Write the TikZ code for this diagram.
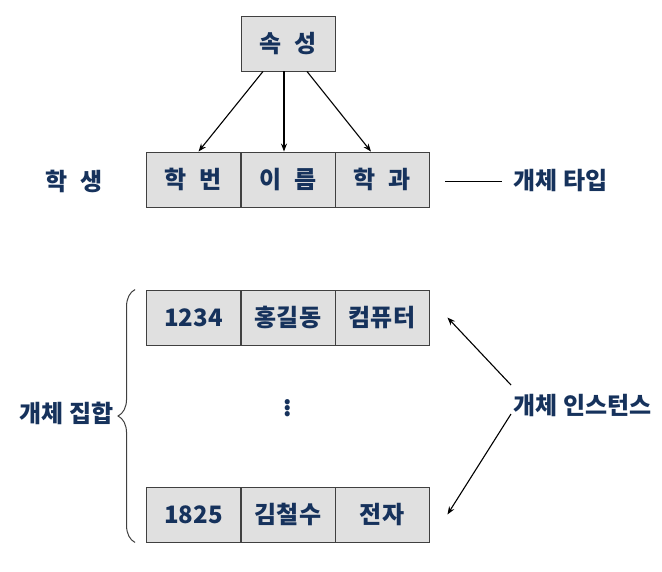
\documentclass[tikz,border=0pt]{standalone}
\usepackage{fontspec}
\setmainfont{Noto Sans CJK KR}
\usepackage{xcolor}
\definecolor{ink}{RGB}{22,50,92}
\definecolor{cellfill}{RGB}{224,224,224}
\usepackage{tikz}
\usetikzlibrary{positioning,arrows.meta,decorations.pathreplacing}
\newcommand{\widegap}{\spaceskip=13pt\relax}

\begin{document}
\begin{tikzpicture}[x=1pt, y=-1pt, >={Stealth[length=8pt,width=6pt]}, line width=1.1pt, font=\bfseries\fontsize{24}{28}\selectfont,
  cell/.style={draw=black!75, line width=0.9pt, fill=cellfill, text=ink, minimum width=94pt, minimum height=55pt, inner sep=0pt},
  wide/.style={font=\bfseries\fontsize{24}{28}\selectfont\widegap},
  lbl/.style={text=ink, inner sep=2pt}]
\useasboundingbox (0,0) rectangle (662,571);
% attribute box and the type row
\node[cell, wide] (attr) at (288,43.5) {속 성};
\node[cell, wide] (h1) at (193.5,179.5) {학 번};
\node[cell, wide] (h2) at (288,179.5) {이 름};
\node[cell, wide] (h3) at (382,179.5) {학 과};
\draw[->] ([xshift=-25]attr.south) -- ([xshift=5]h1.north);
\draw[->] ([xshift=-4]attr.south) -- ([xshift=-4]h2.north);
\draw[->] ([xshift=19]attr.south) -- ([xshift=-11]h3.north);
\node[lbl, wide] (ent) at (74,181) {학 생};
\node[lbl, anchor=west] (type) at (511,181) {개체 타입};
\coordinate (tl) at ([xshift=16]h3.east);
\draw[line width=1pt] (tl |- type.west) -- ([xshift=-9]type.west);
% instance rows
\foreach \r/\y/\a/\b/\c in {r1/317.5/1234/홍길동/컴퓨터, r2/514.5/1825/김철수/전자} {
  \node[cell] (\r-1) at (193.5,\y) {\a};
  \node[cell] (\r-2) at (288,\y) {\b};
  \node[cell] (\r-3) at (382,\y) {\c};
}
\node[text=ink, inner sep=0pt] (dots) at (288,405) {$\vdots$};
\draw[black!75, line width=1pt, decorate, decoration={brace, amplitude=17pt}] ([xshift=-11]r2-1.south west) -- ([xshift=-11]r1-1.north west);
\node[lbl, anchor=east] (set) at (116,413) {개체 집합};
\node[lbl, anchor=west] (inst) at (511,405) {개체 인스턴스};
\coordinate (i1) at ([xshift=18]r1-3.east);
\coordinate (i2) at ([xshift=18]r2-3.east);
\draw[->] ([shift={(0,-20)}]inst.west) -- (i1);
\draw[->] ([shift={(0,9)}]inst.west) -- (i2);
\end{tikzpicture}
\end{document}
